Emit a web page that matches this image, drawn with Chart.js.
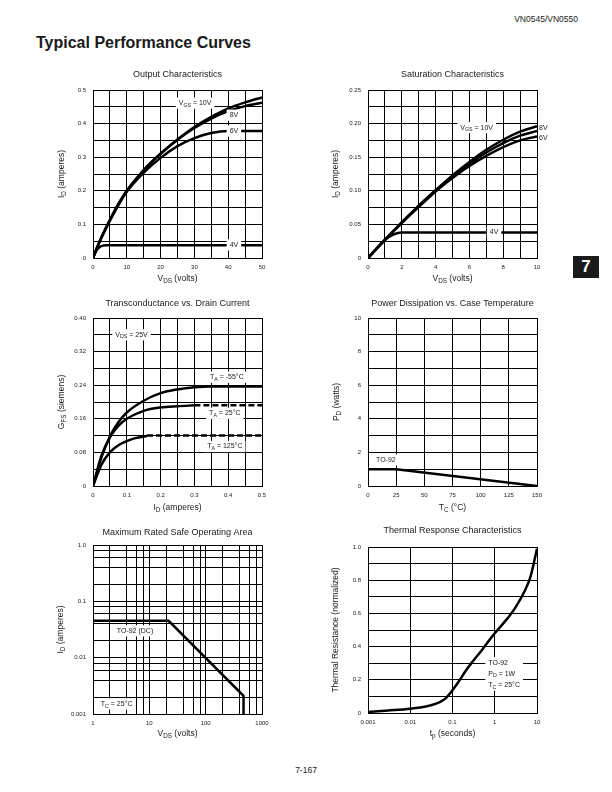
<!DOCTYPE html>
<html>
<head>
<meta charset="utf-8">
<script src="https://cdn.jsdelivr.net/npm/chart.js@4.4.0/dist/chart.umd.min.js"></script>
<style>
  html, body { margin: 0; padding: 0; background: #fff; }
  body { position: relative; width: 612px; height: 792px; overflow: hidden;
         font-family: "Liberation Sans", Arial, sans-serif; color: #1a1a1a; }
  canvas { position: absolute; }
  #partno { position: absolute; right: 34px; top: 14px; font-size: 8.5px; line-height: 10px; }
  #heading { position: absolute; left: 36px; top: 35px; font-size: 16px; line-height: 16px; font-weight: bold; }
  #tab { position: absolute; left: 573px; top: 256px; width: 26px; height: 22px; background: #1a1a1a;
         color: #fff; font-weight: bold; font-size: 17px; line-height: 22px; text-align: center; }
  #pageno { position: absolute; left: 276px; width: 60px; top: 765px; font-size: 8.5px; line-height: 10px; text-align: center; }
</style>
</head>
<body>
<div id="partno">VN0545/VN0550</div>
<div id="heading">Typical Performance Curves</div>
<div id="tab">7</div>
<div id="pageno">7-167</div>
<canvas id="c1"></canvas>
<canvas id="c2"></canvas>
<canvas id="c3"></canvas>
<canvas id="c4"></canvas>
<canvas id="c5"></canvas>
<canvas id="c6"></canvas>
<script>
// ---- data ----

// Output characteristics: ID (A) vs VDS (V)
const outVds = [0, 1, 2, 3, 5, 7.5, 10, 15, 20, 25, 30, 35, 40, 45, 50];
const outId10V = [0, 0.026, 0.05, 0.072, 0.113, 0.16, 0.2, 0.262, 0.311, 0.353, 0.39, 0.42, 0.445, 0.463, 0.478];
const outId8V = [0, 0.026, 0.05, 0.072, 0.113, 0.16, 0.2, 0.261, 0.31, 0.352, 0.387, 0.415, 0.437, 0.452, 0.462];
const outId6V = [0, 0.026, 0.05, 0.071, 0.111, 0.157, 0.197, 0.254, 0.298, 0.333, 0.357, 0.372, 0.378, 0.378, 0.378];
const outVds4V = [0, 1, 2, 3, 4, 5, 50];
const outId4V = [0, 0.022, 0.033, 0.037, 0.038, 0.038, 0.038];
const outXTicks = ['0', '10', '20', '30', '40', '50'];
const outYTicks = ['0', '0.1', '0.2', '0.3', '0.4', '0.5'];

// Saturation characteristics
const satVds = [0, 1, 2, 3, 4, 5, 6, 7, 8, 9, 10];
const satId10V = [0, 0.027, 0.053, 0.078, 0.101, 0.123, 0.143, 0.161, 0.176, 0.188, 0.196];
const satId8V = [0, 0.027, 0.053, 0.077, 0.1, 0.121, 0.14, 0.157, 0.171, 0.182, 0.189];
const satId6V = [0, 0.027, 0.052, 0.076, 0.099, 0.119, 0.137, 0.152, 0.165, 0.175, 0.181];
const satVds4V = [0, 0.5, 1, 1.5, 2, 2.5, 10];
const satId4V = [0, 0.014, 0.027, 0.035, 0.038, 0.038, 0.038];
const satXTicks = ['0', '2', '4', '6', '8', '10'];
const satYTicks = ['0', '0.05', '0.10', '0.15', '0.20', '0.25'];

// Transconductance vs drain current
const gfsIdM55 = [0, 0.025, 0.05, 0.075, 0.1, 0.15, 0.2, 0.25, 0.3, 0.35, 0.5];
const gfsM55 = [0, 0.068, 0.118, 0.152, 0.175, 0.203, 0.221, 0.23, 0.235, 0.237, 0.237];
const gfsId25 = [0, 0.025, 0.05, 0.075, 0.1, 0.15, 0.2, 0.25, 0.3];
const gfs25 = [0, 0.072, 0.116, 0.143, 0.16, 0.179, 0.187, 0.19, 0.192];
const gfsId25Dash = [0.3, 0.5];
const gfs25Dash = [0.192, 0.192];
const gfsId125 = [0, 0.025, 0.05, 0.075, 0.1, 0.125, 0.16];
const gfs125 = [0, 0.051, 0.08, 0.097, 0.107, 0.114, 0.119];
const gfsId125Dash = [0.16, 0.5];
const gfs125Dash = [0.12, 0.12];
const gfsXTicks = ['0', '0.1', '0.2', '0.3', '0.4', '0.5'];
const gfsYTicks = ['0', '0.08', '0.16', '0.24', '0.32', '0.40'];

// Power dissipation vs case temperature
const pwrTc = [0, 25, 150];
const pwrPd = [1, 1, 0];
const pwrXTicks = ['0', '25', '50', '75', '100', '125', '150'];
const pwrYTicks = ['0', '2', '4', '6', '8', '10'];

// Safe operating area
const soaVds = [1, 22, 470, 470];
const soaId = [0.045, 0.045, 0.0021, 0.001];
const soaXTicks = ['1', '10', '100', '1000'];
const soaYTicks = ['0.001', '0.01', '0.1', '1.0'];
const soaXGrid = [1, 2, 4, 6, 8, 10, 20, 40, 60, 80, 100, 200, 400, 600, 800, 1000];
const soaYGrid = [0.001, 0.002, 0.004, 0.006, 0.008, 0.01, 0.02, 0.04, 0.06, 0.08, 0.1, 0.2, 0.4, 0.6, 0.8, 1];

// Thermal response
const thTime = [0.001, 0.003, 0.01, 0.02, 0.03, 0.05, 0.07, 0.1, 0.15, 0.2, 0.3, 0.5, 0.7, 1, 2, 3, 5, 7, 10];
const thRes = [0.006, 0.015, 0.026, 0.036, 0.046, 0.066, 0.09, 0.137, 0.2, 0.25, 0.31, 0.38, 0.43, 0.48, 0.57, 0.63, 0.73, 0.82, 0.99];
const thXTicks = ['0.001', '0.01', '0.1', '1', '10'];
const thYTicks = ['0', '0.2', '0.4', '0.6', '0.8', '1.0'];

// ---- drawing helpers ----
const FONT = '"Liberation Sans", Arial, sans-serif';
const INK = '#1a1a1a';

// "V_{GS} = 10V" -> pieces with subscripts
function parseRich(s) {
  const out = [];
  const re = /_\{([^}]*)\}/g;
  let last = 0, m;
  while ((m = re.exec(s))) {
    if (m.index > last) out.push({ t: s.slice(last, m.index), sub: false });
    out.push({ t: m[1], sub: true });
    last = re.lastIndex;
  }
  if (last < s.length) out.push({ t: s.slice(last), sub: false });
  return out;
}

function richWidth(ctx, s, size) {
  let w = 0;
  for (const p of parseRich(s)) {
    ctx.font = (p.sub ? size * 0.75 : size) + 'px ' + FONT;
    w += ctx.measureText(p.t).width;
  }
  return w;
}

function drawRich(ctx, s, x, y, size, align) {
  const w = richWidth(ctx, s, size);
  let cx = align === 'left' ? x : (align === 'right' ? x - w : x - w / 2);
  ctx.textBaseline = 'middle';
  ctx.textAlign = 'left';
  for (const p of parseRich(s)) {
    ctx.font = (p.sub ? size * 0.75 : size) + 'px ' + FONT;
    ctx.fillText(p.t, cx, p.sub ? y + size * 0.3 : y);
    cx += ctx.measureText(p.t).width;
  }
}

// titles, axis titles and the boxed curve labels
function notesPlugin(cfg) {
  return {
    id: 'notes',
    afterDatasetsDraw(chart) {
      const ctx = chart.ctx, a = chart.chartArea;
      const xs = chart.scales.x, ys = chart.scales.y;
      ctx.save();
      ctx.fillStyle = INK;
      const midX = (a.left + a.right) / 2;
      drawRich(ctx, cfg.title, midX, a.top + cfg.titleDy, 9, 'center');
      drawRich(ctx, cfg.xTitle, midX, a.bottom + cfg.xTitleDy, 8.5, 'center');
      ctx.save();
      ctx.translate(a.left + cfg.yTitleDx, (a.top + a.bottom) / 2);
      ctx.rotate(-Math.PI / 2);
      drawRich(ctx, cfg.yTitle, 0, 0, 8.5, 'center');
      ctx.restore();

      const size = 7, gap = 11.2;
      for (const n of cfg.notes) {
        const px = xs.getPixelForValue(n.x), py = ys.getPixelForValue(n.y);
        let w = 0;
        n.lines.forEach(l => { w = Math.max(w, richWidth(ctx, l, size)); });
        const left = n.align === 'left' ? px : px - w / 2;
        if (n.box !== false) {
          ctx.fillStyle = '#fff';
          ctx.fillRect(left - 3, py - gap / 2, w + 6, gap * n.lines.length);
        }
        ctx.fillStyle = INK;
        n.lines.forEach((l, i) => drawRich(ctx, l, left, py + i * gap, size, 'left'));
      }
      ctx.restore();
    }
  };
}

function labelFor(list, v) {
  const hit = list.find(s => Math.abs(parseFloat(s) - v) <= Math.abs(v) * 1e-6 + 1e-9);
  return hit === undefined ? '' : hit;
}

function axis(a, which, size) {
  const sc = {
    type: a.log ? 'logarithmic' : 'linear',
    min: a.min, max: a.max,
    afterFit: s => { if (which === 'x') s.height = size; else s.width = size; },
    grid: { color: '#000', lineWidth: 1, drawTicks: false },
    border: { color: '#000', width: 1 },
    ticks: {
      autoSkip: false, maxRotation: 0, minRotation: 0,
      padding: which === 'x' ? 6 : 7,
      color: INK, font: { family: FONT, size: 6 },
      callback: v => labelFor(a.labels, v)
    }
  };
  if (a.grid) sc.afterBuildTicks = s => { s.ticks = a.grid.map(v => ({ value: v })); };
  else sc.ticks.stepSize = a.step;
  return sc;
}

function series(xs, ys, extra) {
  return Object.assign({
    data: xs.map((x, i) => ({ x: x, y: ys[i] })),
    borderColor: '#000', borderWidth: 2.5, pointRadius: 0, fill: false,
    cubicInterpolationMode: 'monotone'
  }, extra || {});
}

function buildChart(id, box, cfg) {
  const padL = 50, padT = 24, padR = 18, padB = 32;
  const cv = document.getElementById(id);
  cv.width = box.w + padL + padR;
  cv.height = box.h + padT + padB;
  cv.style.left = (box.l - padL) + 'px';
  cv.style.top = (box.t - padT) + 'px';
  return new Chart(cv, {
    type: 'line',
    data: { datasets: cfg.series },
    options: {
      responsive: false,
      animation: false,
      layout: { padding: { left: 0, top: padT, right: padR, bottom: 0 } },
      plugins: { legend: { display: false }, tooltip: { enabled: false } },
      scales: { x: axis(cfg.x, 'x', padB), y: axis(cfg.y, 'y', padL) }
    },
    plugins: [notesPlugin(cfg)]
  });
}

const straight = { cubicInterpolationMode: 'default', tension: 0 };
const dashed = { borderDash: [6, 3] };

buildChart('c1', { l: 93, t: 90, w: 169, h: 168 }, {
  title: 'Output Characteristics', titleDy: -15,
  xTitle: 'V_{DS} (volts)', xTitleDy: 21,
  yTitle: 'I_{D} (amperes)', yTitleDx: -31,
  x: { min: 0, max: 50, step: 5, labels: outXTicks },
  y: { min: 0, max: 0.5, step: 0.05, labels: outYTicks },
  series: [
    series(outVds, outId10V), series(outVds, outId8V),
    series(outVds, outId6V), series(outVds4V, outId4V)
  ],
  notes: [
    { x: 30.2, y: 0.461, lines: ['V_{GS} = 10V'] },
    { x: 41.7, y: 0.425, lines: ['8V'] },
    { x: 41.7, y: 0.378, lines: ['6V'] },
    { x: 41.7, y: 0.039, lines: ['4V'] }
  ]
});

buildChart('c2', { l: 368, t: 90, w: 169, h: 168 }, {
  title: 'Saturation Characteristics', titleDy: -15,
  xTitle: 'V_{DS} (volts)', xTitleDy: 21,
  yTitle: 'I_{D} (amperes)', yTitleDx: -32,
  x: { min: 0, max: 10, step: 1, labels: satXTicks },
  y: { min: 0, max: 0.25, step: 0.025, labels: satYTicks },
  series: [
    series(satVds, satId10V), series(satVds, satId8V),
    series(satVds, satId6V), series(satVds4V, satId4V)
  ],
  notes: [
    { x: 6.43, y: 0.194, lines: ['V_{GS} = 10V'] },
    { x: 10.12, y: 0.193, lines: ['8V'], align: 'left', box: false },
    { x: 10.12, y: 0.179, lines: ['6V'], align: 'left', box: false },
    { x: 7.46, y: 0.039, lines: ['4V'] }
  ]
});

buildChart('c3', { l: 93, t: 318, w: 169, h: 168 }, {
  title: 'Transconductance vs. Drain Current', titleDy: -14,
  xTitle: 'I_{D} (amperes)', xTitleDy: 22,
  yTitle: 'G_{FS} (siemens)', yTitleDx: -31,
  x: { min: 0, max: 0.5, step: 0.05, labels: gfsXTicks },
  y: { min: 0, max: 0.4, step: 0.04, labels: gfsYTicks },
  series: [
    series(gfsIdM55, gfsM55),
    series(gfsId25, gfs25), series(gfsId25Dash, gfs25Dash, Object.assign({}, straight, dashed)),
    series(gfsId125, gfs125), series(gfsId125Dash, gfs125Dash, Object.assign({}, straight, dashed))
  ],
  notes: [
    { x: 0.114, y: 0.36, lines: ['V_{DS} = 25V'] },
    { x: 0.396, y: 0.259, lines: ['T_{A} = -55°C'] },
    { x: 0.39, y: 0.173, lines: ['T_{A} = 25°C'] },
    { x: 0.39, y: 0.094, lines: ['T_{A} = 125°C'] }
  ]
});

buildChart('c4', { l: 368, t: 318, w: 169, h: 168 }, {
  title: 'Power Dissipation vs. Case Temperature', titleDy: -14,
  xTitle: 'T_{C} (°C)', xTitleDy: 22,
  yTitle: 'P_{D} (watts)', yTitleDx: -31,
  x: { min: 0, max: 150, step: 25, labels: pwrXTicks },
  y: { min: 0, max: 10, step: 1, labels: pwrYTicks },
  series: [series(pwrTc, pwrPd, straight)],
  notes: [{ x: 7.1, y: 1.55, lines: ['TO-92'], align: 'left' }]
});

buildChart('c5', { l: 93, t: 545, w: 169, h: 169 }, {
  title: 'Maximum Rated Safe Operating Area', titleDy: -12,
  xTitle: 'V_{DS} (volts)', xTitleDy: 20,
  yTitle: 'I_{D} (amperes)', yTitleDx: -32,
  x: { log: true, min: 1, max: 1000, grid: soaXGrid, labels: soaXTicks },
  y: { log: true, min: 0.001, max: 1, grid: soaYGrid, labels: soaYTicks },
  series: [series(soaVds, soaId, straight)],
  notes: [
    { x: 5.57, y: 0.0299, lines: ['TO-92 (DC)'] },
    { x: 2.63, y: 0.0015, lines: ['T_{C} = 25°C'] }
  ]
});

buildChart('c6', { l: 368, t: 547, w: 169, h: 166 }, {
  title: 'Thermal Response Characteristics', titleDy: -16,
  xTitle: 't_{p} (seconds)', xTitleDy: 21,
  yTitle: 'Thermal Resistance (normalized)', yTitleDx: -32,
  x: { log: true, min: 0.001, max: 10, grid: [0.001, 0.01, 0.1, 1, 10], labels: thXTicks },
  y: { min: 0, max: 1, step: 0.1, labels: thYTicks },
  series: [series(thTime, thRes)],
  notes: [{ x: 0.703, y: 0.303, lines: ['TO-92', 'P_{D} = 1W', 'T_{C} = 25°C'], align: 'left' }]
});
</script>
</body>
</html>
